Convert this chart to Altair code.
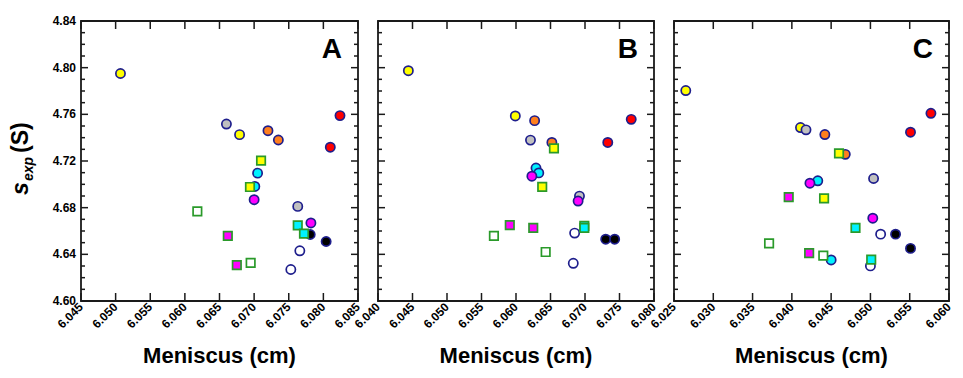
import altair as alt
import pandas as pd

# ---------------- data ----------------
SERIES = ["Yc", "Yc", "Gc", "Gc", "Oc", "Oc", "Rc", "Rc", "Cc", "Cc", "Mc", "Mc",
          "Kc", "Kc", "Wc", "Wc", "Ys", "Ys", "Cs", "Cs", "Ms", "Ms", "Ws", "Ws"]
SERIES_KEYS = ["Yc", "Gc", "Oc", "Rc", "Cc", "Mc", "Kc", "Wc", "Ys", "Cs", "Ms", "Ws"]
SERIES_FILL = ["#ffff00", "#c0c0c0", "#ff7f1e", "#ff0000", "#00f2ff", "#ff00ff",
               "#000000", "#ffffff", "#ffff00", "#00f2ff", "#ff00ff", "#ffffff"]
SERIES_SHAPE = ["circle"] * 8 + ["square"] * 4

x_A = [6.0507, 6.0679, 6.0660, 6.0763, 6.0720, 6.0735, 6.0824, 6.0810,
       6.0705, 6.0701, 6.0700, 6.0782, 6.0781, 6.0804, 6.0766, 6.0753,
       6.0710, 6.0694, 6.0763, 6.0772, 6.0662, 6.0675, 6.0618, 6.0695]
y_A = [4.795, 4.7426, 4.7517, 4.6811, 4.746, 4.738, 4.7589, 4.7318,
       4.7096, 4.6982, 4.6868, 4.6669, 4.657, 4.651, 4.643, 4.627,
       4.7204, 4.6977, 4.6649, 4.6578, 4.6558, 4.6307, 4.6769, 4.6327]

x_B = [6.0444, 6.0599, 6.0621, 6.0692, 6.0627, 6.0652, 6.0733, 6.0767,
       6.0629, 6.0633, 6.0623, 6.0690, 6.0730, 6.0743, 6.0685, 6.0683,
       6.0655, 6.0638, 6.0699, 6.0699, 6.0591, 6.0625, 6.0568, 6.0643]
y_B = [4.7974, 4.7586, 4.7379, 4.6899, 4.7546, 4.7359, 4.7359, 4.7557,
       4.714, 4.7098, 4.707, 4.6857, 4.653, 4.653, 4.6582, 4.6323,
       4.7308, 4.6979, 4.6644, 4.6627, 4.665, 4.6627, 4.6559, 4.642]

x_C = [6.0265, 6.0411, 6.0418, 6.0504, 6.0442, 6.0468, 6.0577, 6.0551,
       6.0433, 6.0450, 6.0423, 6.0503, 6.0532, 6.0551, 6.0513, 6.0500,
       6.0460, 6.0441, 6.0481, 6.0501, 6.0396, 6.0422, 6.0371, 6.0440]
y_C = [4.7804, 4.7487, 4.7467, 4.705, 4.7427, 4.7257, 4.7609, 4.7447,
       4.703, 4.6352, 4.701, 4.671, 4.6573, 4.6451, 4.6573, 4.6301,
       4.7265, 4.688, 4.6627, 4.6355, 4.6891, 4.6411, 4.6494, 4.6389]

x_ticks_A = [6.045, 6.050, 6.055, 6.060, 6.065, 6.070, 6.075, 6.080, 6.085]
x_ticks_B = [6.040, 6.045, 6.050, 6.055, 6.060, 6.065, 6.070, 6.075, 6.080]
x_ticks_C = [6.025, 6.030, 6.035, 6.040, 6.045, 6.050, 6.055, 6.060]
y_major = [4.60, 4.64, 4.68, 4.72, 4.76, 4.80, 4.84]
y_minor = [4.61, 4.62, 4.63, 4.65, 4.66, 4.67, 4.69, 4.70, 4.71, 4.73, 4.74, 4.75,
           4.77, 4.78, 4.79, 4.81, 4.82, 4.83]
y_domain = [4.60, 4.84]
x_title = "Meniscus (cm)"

NAVY = "#1e1e8c"
GREEN = "#2a9a2a"
FRAME = "#1a1a1a"
FONT = "Liberation Sans"
H = 280
VTICK = "M0,-1L0,1"   # vertical line symbol
HTICK = "M-1,0L1,0"   # horizontal line symbol


def make_df(xs, ys):
    fill_of = dict(zip(SERIES_KEYS, SERIES_FILL))
    shape_of = dict(zip(SERIES_KEYS, SERIES_SHAPE))
    return pd.DataFrame({
        "x": xs, "y": ys, "series": SERIES,
        "fill": [fill_of[s] for s in SERIES],
        "shape": [shape_of[s] for s in SERIES],
    })


def panel(xs, ys, xticks, letter, show_ylabels, width, ytitle=False):
    df = make_df(xs, ys)
    xscale = alt.Scale(domain=[xticks[0], xticks[-1]], nice=False, zero=False)
    yscale = alt.Scale(domain=y_domain, nice=False, zero=False)

    X = lambda f: alt.X(f, scale=xscale, axis=None)
    Y = lambda f: alt.Y(f, scale=yscale, axis=None)

    circles = alt.Chart(df[df["shape"] == "circle"]).mark_point(
        shape="circle", filled=True, size=85, stroke=NAVY, strokeWidth=1.7, opacity=1
    ).encode(x=X("x:Q"), y=Y("y:Q"), fill=alt.Fill("fill:N", scale=None))
    squares = alt.Chart(df[df["shape"] == "square"]).mark_square(
        size=72, stroke=GREEN, strokeWidth=1.7, opacity=1
    ).encode(x=X("x:Q"), y=Y("y:Q"), fill=alt.Fill("fill:N", scale=None))

    # frame ticks (inward) drawn as line symbols, positioned through the scales
    xt = pd.DataFrame({"tx": xticks})
    ytmaj = pd.DataFrame({"ty": y_major})
    ytmin = pd.DataFrame({"ty": y_minor})

    def xtick(ypos):
        return alt.Chart(xt).mark_point(shape=VTICK, size=64, filled=False, stroke=FRAME,
                                        strokeWidth=1.5, opacity=1).encode(
            x=X("tx:Q"), y=alt.value(ypos))

    def ytick(data, xpos, length):
        return alt.Chart(data).mark_point(shape=HTICK, size=length * length, filled=False,
                                          stroke=FRAME, strokeWidth=1.5, opacity=1).encode(
            y=Y("ty:Q"), x=alt.value(xpos))

    layers = [circles, squares,
              xtick(H - 4), xtick(4),
              ytick(ytmaj, 3.5, 7), ytick(ytmaj, width - 3.5, 7),
              ytick(ytmin, 2, 4), ytick(ytmin, width - 2, 4)]

    # tick labels and axis title as text marks
    xl = pd.DataFrame({"v": xticks, "lab": [f"{v:.3f}" for v in xticks]})
    xlabels = alt.Chart(xl).mark_text(
        font=FONT, fontSize=12, fontWeight="bold", angle=315, align="right",
        baseline="middle", color="#000"
    ).encode(x=X("v:Q"), y=alt.value(H + 4), text="lab:N")
    xtitle = alt.Chart(pd.DataFrame({"t": [x_title]})).mark_text(
        font=FONT, fontSize=22, fontWeight="bold", align="center", baseline="alphabetic",
        color="#000"
    ).encode(text="t:N", x=alt.value(width / 2), y=alt.value(H + 62))
    layers += [xlabels, xtitle]

    if show_ylabels:
        yl = pd.DataFrame({"v": y_major, "lab": [f"{v:.2f}" for v in y_major]})
        ylabels = alt.Chart(yl).mark_text(
            font=FONT, fontSize=12, fontWeight="bold", align="right", baseline="middle",
            color="#000"
        ).encode(y=Y("v:Q"), x=alt.value(-5), text="lab:N")
        layers.append(ylabels)

    lab = alt.Chart(pd.DataFrame({"t": [letter]})).mark_text(
        font=FONT, fontSize=28, fontWeight="bold", align="right", baseline="alphabetic",
        color="#000"
    ).encode(text="t:N", x=alt.value(width - 16), y=alt.value(37))
    layers.append(lab)

    if ytitle:
        it = alt.Chart(pd.DataFrame({"t": ["s", "exp"], "fs": [23, 14],
                                     "px": [-53, -48], "py": [174, 160]})).mark_text(
            font=FONT, fontWeight="bold", fontStyle="italic", angle=270,
            align="left", baseline="alphabetic", color="#000"
        ).encode(text="t:N", x=alt.X("px:Q", scale=None), y=alt.Y("py:Q", scale=None),
                 size=alt.Size("fs:Q", scale=None))
        up = alt.Chart(pd.DataFrame({"t": ["(S)"]})).mark_text(
            font=FONT, fontWeight="bold", fontSize=23, angle=270,
            align="left", baseline="alphabetic", color="#000"
        ).encode(text="t:N", x=alt.value(-53), y=alt.value(132))
        layers += [it, up]

    return alt.layer(*layers).properties(width=width, height=H)


pA = panel(x_A, y_A, x_ticks_A, "A", True, 277, ytitle=True)
pB = panel(x_B, y_B, x_ticks_B, "B", False, 276)
pC = panel(x_C, y_C, x_ticks_C, "C", False, 275)

chart = alt.hconcat(pA, pB, pC, spacing=20, bounds="flush").properties(
    padding={"left": 1, "top": 6, "right": 0, "bottom": 0}
).configure_view(stroke=FRAME, strokeWidth=1.8)

chart.save("out.html", embed_options={"renderer": "svg", "actions": False})
